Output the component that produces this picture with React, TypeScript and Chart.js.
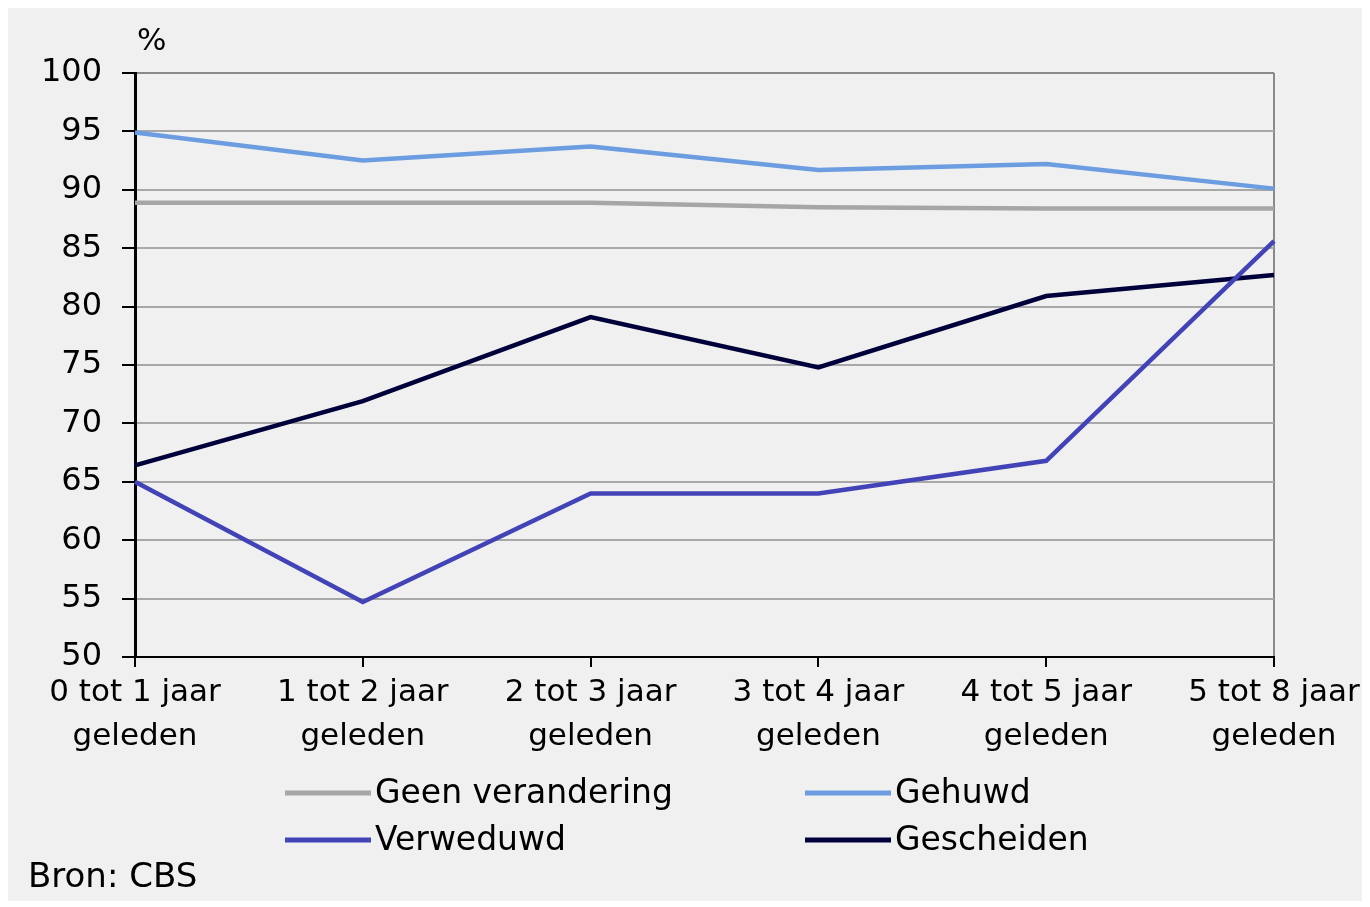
import React, { useEffect, useRef } from "react";
import { Chart, registerables } from "chart.js";

Chart.register(...registerables);

const categories: string[][] = [
  ["0 tot 1 jaar", "geleden"],
  ["1 tot 2 jaar", "geleden"],
  ["2 tot 3 jaar", "geleden"],
  ["3 tot 4 jaar", "geleden"],
  ["4 tot 5 jaar", "geleden"],
  ["5 tot 8 jaar", "geleden"],
];
const seriesNames = ["Geen verandering", "Gehuwd", "Verweduwd", "Gescheiden"];
const geenVerandering = [88.9, 88.9, 88.9, 88.5, 88.4, 88.4];
const gehuwd = [94.9, 92.5, 93.7, 91.7, 92.2, 90.1];
const verweduwd = [65.0, 54.7, 64.0, 64.0, 66.8, 85.6];
const gescheiden = [66.4, 71.9, 79.1, 74.8, 80.9, 82.7];
const yMin = 50;
const yMax = 100;
const yStep = 5;
const unitLabel = "%";
const sourceLabel = "Bron: CBS";

const colors = ["#a6a6a6", "#6b9de0", "#4343b8", "#00003a"];
const FONT = "'DejaVu Sans', sans-serif";

const W = 1354;
const H = 893;

const overlayPlugin = {
  id: "overlay",
  afterDraw(chart: any) {
    const ctx = chart.ctx as CanvasRenderingContext2D;
    ctx.save();
    ctx.fillStyle = "#000";
    ctx.textBaseline = "middle";
    ctx.textAlign = "left";
    ctx.font = `31px ${FONT}`;
    ctx.fillText(unitLabel, chart.chartArea.left + 2, 34);
    ctx.font = `34px ${FONT}`;
    ctx.fillText(sourceLabel, 20, 870);
    const colX = [277, 797];
    const rowY = [785, 832];
    chart.data.datasets.forEach((ds: any, i: number) => {
      const x = colX[i % 2];
      const y = rowY[Math.floor(i / 2)];
      ctx.strokeStyle = ds.borderColor;
      ctx.lineWidth = 5;
      ctx.beginPath();
      ctx.moveTo(x, y);
      ctx.lineTo(x + 86, y);
      ctx.stroke();
      ctx.fillStyle = "#000";
      ctx.font = `33px ${FONT}`;
      ctx.fillText(ds.label, x + 90, y + 1);
    });
    ctx.restore();
  },
};

export default function App() {
  const ref = useRef<HTMLCanvasElement | null>(null);
  useEffect(() => {
    if (!ref.current) return;
    const series = [geenVerandering, gehuwd, verweduwd, gescheiden];
    const chart = new Chart(ref.current, {
      type: "line",
      data: {
        labels: categories,
        datasets: series.map((d, i) => ({
          label: seriesNames[i],
          data: d,
          borderColor: colors[i],
          backgroundColor: colors[i],
          borderWidth: 4.5,
          pointRadius: 0,
          tension: 0,
          fill: false,
        })),
      },
      options: {
        animation: false,
        responsive: false,
        maintainAspectRatio: false,
        layout: { padding: { left: 0, top: 65, right: 88, bottom: 134 } },
        plugins: {
          legend: { display: false },
          title: { display: false },
          tooltip: { enabled: false },
        },
        scales: {
          x: {
            type: "category",
            offset: false,
            afterFit: (s: any) => {
              s.height = 110;
              s.paddingLeft = 0;
              s.paddingRight = 0;
            },
            grid: {
              drawOnChartArea: true,
              drawTicks: true,
              tickLength: 10,
              tickWidth: 2,
              tickColor: "#000",
              lineWidth: 2,
              color: (c: any) => (c.index === categories.length - 1 ? "#8a8a8a" : "rgba(0,0,0,0)"),
            },
            border: { display: true, color: "#000", width: 2 },
            ticks: {
              color: "#000",
              font: { family: FONT, size: 31, lineHeight: 1.42 },
              padding: 4,
              maxRotation: 0,
              autoSkip: false,
            },
          },
          y: {
            min: yMin,
            max: yMax,
            afterFit: (s: any) => {
              s.width = 127;
            },
            grid: {
              drawTicks: true,
              tickLength: 13,
              tickWidth: 2,
              tickColor: "#000",
              lineWidth: 2,
              color: (c: any) => (c.index === 0 ? "rgba(0,0,0,0)" : c.index === 10 ? "#8a8a8a" : "#a8a8a8"),
            },
            border: { display: true, color: "#000", width: 3 },
            ticks: {
              stepSize: yStep,
              color: "#000",
              font: { family: FONT, size: 32 },
              padding: 20,
            },
          },
        },
      },
      plugins: [overlayPlugin],
    } as any);
    return () => chart.destroy();
  }, []);
  return (
    <div style={{ width: W, height: H, background: "#f0f0f0" }}>
      <canvas ref={ref} width={W} height={H} style={{ display: "block" }} />
    </div>
  );
}
